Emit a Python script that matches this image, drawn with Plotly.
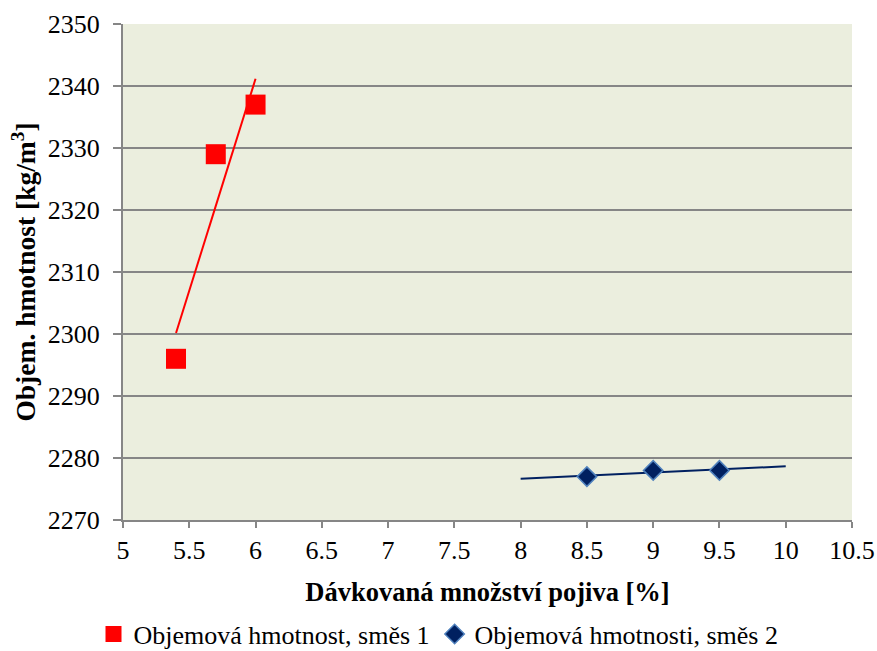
import numpy as np
import plotly.graph_objects as go

# Data
x1 = [5.4, 5.7, 6.0]
y1 = [2296, 2329, 2337]
x2 = [8.5, 9.0, 9.5]
y2 = [2277, 2278, 2278]
trend1_range = [5.4, 6.0]
trend2_range = [8.0, 10.0]
name1 = "Objemová hmotnost, směs 1"
name2 = "Objemová hmotnosti, směs 2"
x_ticks = [5, 5.5, 6, 6.5, 7, 7.5, 8, 8.5, 9, 9.5, 10, 10.5]
y_ticks = [2270, 2280, 2290, 2300, 2310, 2320, 2330, 2340, 2350]

def trend(xs, ys, rng):
    k, q = np.polyfit(xs, ys, 1)
    tx = np.array(rng)
    return tx, k * tx + q

t1x, t1y = trend(x1, y1, trend1_range)
t2x, t2y = trend(x2, y2, trend2_range)

FONT = "'Times New Roman', 'Liberation Serif', 'DejaVu Serif', serif"

fig = go.Figure()
fig.add_trace(go.Scatter(x=t1x, y=t1y, mode="lines", line=dict(color="#FF0000", width=2),
                         showlegend=False, hoverinfo="skip"))
fig.add_trace(go.Scatter(x=t2x, y=t2y, mode="lines", line=dict(color="#002060", width=2),
                         showlegend=False, hoverinfo="skip"))
fig.add_trace(go.Scatter(x=x1, y=y1, mode="markers", name=name1,
                         marker=dict(symbol="square", size=20, color="#FF0000",
                                     line=dict(color="#FF0000", width=0))))
fig.add_trace(go.Scatter(x=x2, y=y2, mode="markers", name=name2,
                         marker=dict(symbol="diamond", size=15, color="#002060",
                                     line=dict(color="#4F81BD", width=1.5))))

fig.update_layout(
    width=877, height=651,
    margin=dict(l=123, r=25, t=24, b=131, autoexpand=False),
    paper_bgcolor="white",
    plot_bgcolor="#EBEEDE",
    font=dict(family=FONT, size=26, color="black"),
    showlegend=True,
    legend=dict(orientation="h", x=0.5, xanchor="center", xref="container",
                y=0.026, yanchor="middle", yref="container",
                font=dict(family=FONT, size=26), itemwidth=30, traceorder="normal",
                bgcolor="rgba(0,0,0,0)"),
    xaxis=dict(range=[5, 10.5], tickvals=x_ticks, ticktext=[str(v) for v in x_ticks],
               showgrid=False, zeroline=False, showline=True, linecolor="#868686",
               linewidth=2, ticks="outside", ticklen=6, tickcolor="#868686", tickwidth=1.5,
               tickfont=dict(family=FONT, size=26), automargin=False,
               title=dict(text="<b>Dávkovaná množství pojiva [%]</b>", standoff=18,
                          font=dict(family=FONT, size=26.5))),
    yaxis=dict(range=[2270, 2350], tickvals=y_ticks,
               showgrid=True, gridcolor="#868686", gridwidth=2, zeroline=False,
               showline=True, linecolor="#868686", linewidth=2,
               ticks="outside", ticklen=8, tickcolor="#868686", tickwidth=1.5,
               ticklabelstandoff=8,
               tickfont=dict(family=FONT, size=26), automargin=False,
               title=dict(text="<b>Objem. hmotnost [kg/m<sup>3</sup>]</b>", standoff=4,
                          font=dict(family=FONT, size=27.5))),
)

fig.write_html("out.html", config={"displayModeBar": False},
               post_script="document.body.style.margin='0';")
